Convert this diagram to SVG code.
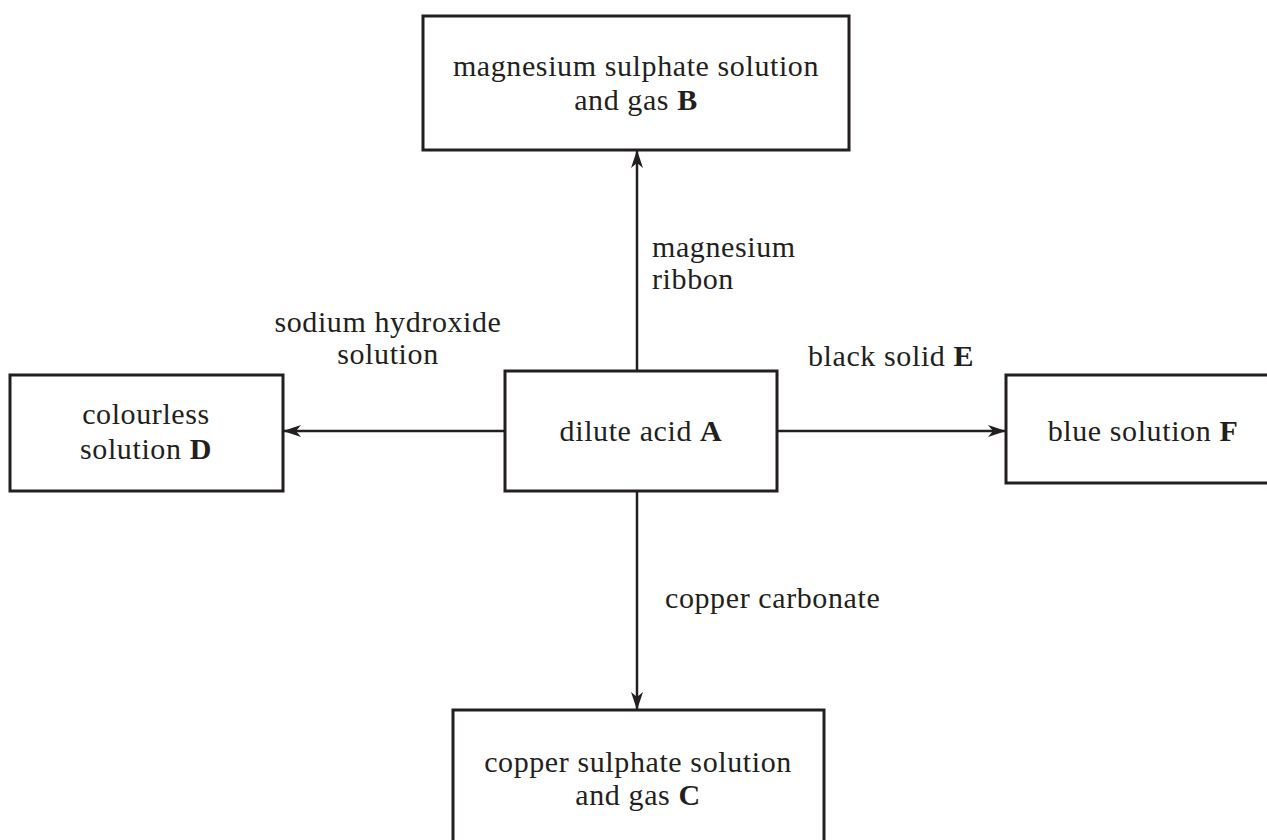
<svg xmlns="http://www.w3.org/2000/svg" width="1267" height="840" viewBox="0 0 1267 840">
<style>
.box{fill:#fff;stroke:#231f20;stroke-width:3}
.ln{fill:none;stroke:#231f20;stroke-width:2.5}
text{font-family:"Liberation Serif","Times New Roman",serif;font-size:30px;letter-spacing:0.6px;fill:#231f20}
.c{text-anchor:middle}
.b{font-weight:bold}
</style>
<defs>
<marker id="ah" viewBox="0 0 18 12" refX="17" refY="6" markerWidth="18" markerHeight="12" markerUnits="userSpaceOnUse" orient="auto">
<path d="M0,0 L18,6 L0,12 L5,6 Z" fill="#231f20"/>
</marker>
</defs>
<g id="connectors">
<line class="ln" x1="637" y1="371" x2="637" y2="151" marker-end="url(#ah)"/>
<line class="ln" x1="637" y1="491" x2="637" y2="709" marker-end="url(#ah)"/>
<line class="ln" x1="505" y1="431" x2="284" y2="431" marker-end="url(#ah)"/>
<line class="ln" x1="777" y1="431" x2="1005" y2="431" marker-end="url(#ah)"/>
<text x="652" y="257">magnesium</text>
<text x="652" y="289">ribbon</text>
<text class="c" x="388" y="332">sodium hydroxide</text>
<text class="c" x="388" y="364">solution</text>
<text x="808" y="366">black solid <tspan class="b">E</tspan></text>
<text x="665" y="608">copper carbonate</text>
</g>
<g id="nodeB">
<rect class="box" x="423" y="16" width="426" height="134"/>
<text class="c" x="636" y="76">magnesium sulphate solution</text>
<text class="c" x="636" y="110">and gas <tspan class="b">B</tspan></text>
</g>
<g id="nodeD">
<rect class="box" x="10" y="375" width="273" height="116"/>
<text class="c" x="146" y="424">colourless</text>
<text class="c" x="146" y="459">solution <tspan class="b">D</tspan></text>
</g>
<g id="nodeA">
<rect class="box" x="505" y="371" width="272" height="120"/>
<text class="c" x="641" y="441">dilute acid <tspan class="b">A</tspan></text>
</g>
<g id="nodeF">
<rect class="box" x="1006" y="375" width="270" height="108"/>
<text class="c" x="1143" y="441">blue solution <tspan class="b">F</tspan></text>
</g>
<g id="nodeC">
<rect class="box" x="453" y="710" width="371" height="140"/>
<text class="c" x="638" y="772">copper sulphate solution</text>
<text class="c" x="638" y="805">and gas <tspan class="b">C</tspan></text>
</g>
</svg>
